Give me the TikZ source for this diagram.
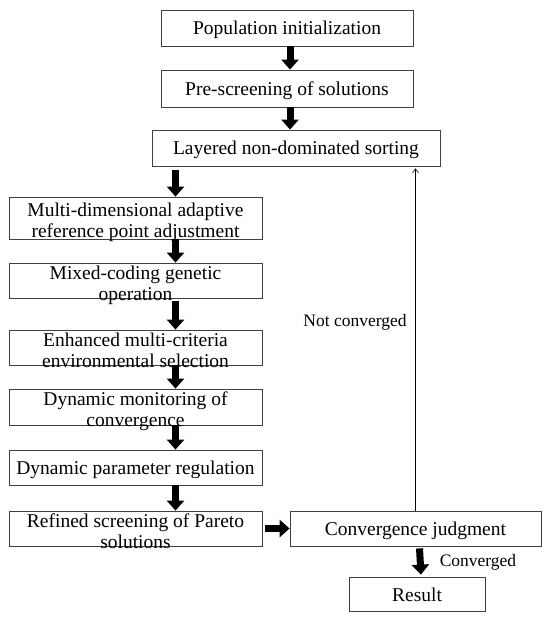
\documentclass[tikz,border=0pt]{standalone}
\usepackage{fontspec}
\setmainfont{Liberation Serif}
\usetikzlibrary{arrows.meta,positioning}
% two lines of text that may spill over the box edge
\newcommand{\twoln}[2]{\smash{\raisebox{-3pt}{\begin{tabular}{@{}c@{}}#1\\#2\end{tabular}}}}

\begin{document}
\begin{tikzpicture}[x=1pt,y=-1pt,font=\fontsize{19.5}{21}\selectfont,node distance=23.2pt,
  b/.style={draw=black!75,line width=0.8pt,minimum height=36pt,align=center,inner xsep=2pt,inner ysep=0pt,
    text height=14pt,text depth=0pt},
  wide/.style={b,minimum width=253pt,minimum height=35pt},
  lbl/.style={font=\fontsize{17.5}{19}\selectfont},
  fat/.style={line width=7pt,-{Triangle[width=17pt,length=10pt]}},
  back/.style={line width=0.6pt,-{Straight Barb[length=4pt,width=6pt]}}]
\useasboundingbox (0,0) rectangle (550,620);
\node[b,minimum width=252pt] (init) at (287,28) {Population initialization};
\node[b,minimum width=252pt,minimum height=37pt,below=of init] (pre) {Pre-screening of solutions};
\node[b,minimum width=288pt,below=22.2pt of pre,xshift=9pt] (sort) {Layered non-dominated sorting};
\node[wide,minimum height=42pt,below=30.2pt of sort,xshift=-160.5pt] (ref) {\twoln{Multi-dimensional adaptive}{reference point adjustment}};
\node[wide,below=of ref] (mix) {\twoln{Mixed-coding genetic}{operation}};
\node[wide,below=31.2pt of mix] (env) {\twoln{Enhanced multi-criteria}{environmental selection}};
\node[wide,minimum height=36pt,below=of env] (mon) {\twoln{Dynamic monitoring of}{convergence}};
\node[wide,below=24.2pt of mon] (par) {Dynamic parameter regulation};
\node[wide,below=25.2pt of par] (scr) {\twoln{Refined screening of Pareto}{solutions}};
\node[b,minimum width=251pt,minimum height=35pt,right=27.2pt of scr] (conv) {Convergence judgment};
\node[b,minimum width=136pt,minimum height=34pt,below=30.2pt of conv,xshift=1.5pt] (res) {Result};
\node[lbl] (notc) at (355,322) {Not converged};
\node[lbl] (conv2) at (478,562) {Converged};
% main flow
\draw[fat] ([xshift=3pt]init.south) -- ([xshift=3pt]pre.north);
\draw[fat] ([xshift=3pt]pre.south) -- ([xshift=-6pt]sort.north);
\draw[fat] ([xshift=40pt,yshift=27pt]ref.north) -- ([xshift=40pt]ref.north);
\draw[fat] ([xshift=40pt]ref.south) -- ([xshift=40pt]mix.north);
\draw[fat] ([xshift=40pt,yshift=-3pt]mix.south) -- ([xshift=40pt]env.north);
\draw[fat] ([xshift=40pt]env.south) -- ([xshift=40pt]mon.north);
\draw[fat] ([xshift=40pt]mon.south) -- ([xshift=40pt]par.north);
\draw[fat] ([xshift=40pt]par.south) -- ([xshift=40pt]scr.north);
\draw[fat] ([xshift=3pt]scr.east) -- (conv.west);
\draw[fat] ([xshift=4pt,yshift=-2pt]conv.south) -- ([xshift=4pt,yshift=2pt]res.north);
% loop back
\draw[back,shorten >=2pt] (conv.north) -- (conv.north |- sort.south);
\end{tikzpicture}
\end{document}
